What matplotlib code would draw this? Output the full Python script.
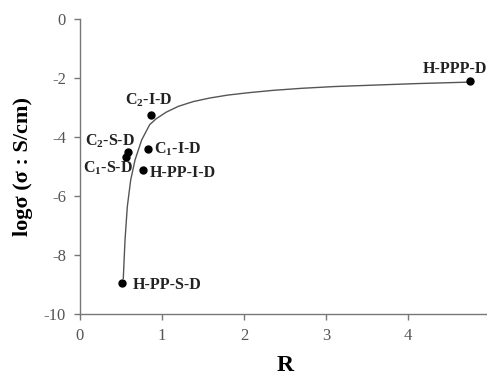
import matplotlib
matplotlib.use("Agg")
import matplotlib.pyplot as plt

plt.rcParams["font.family"] = ["Liberation Serif", "DejaVu Serif"]
plt.rcParams["mathtext.fontset"] = "custom"
plt.rcParams["mathtext.rm"] = "Liberation Serif:bold"
plt.rcParams["mathtext.it"] = "Liberation Serif:bold:italic"
plt.rcParams["mathtext.bf"] = "Liberation Serif:bold"
plt.rcParams["axes.unicode_minus"] = False

# samples
names = ["H-PP-S-D", "C$_2$-S-D", "C$_1$-S-D", "C$_1$-I-D", "H-PP-I-D", "C$_2$-I-D", "H-PPP-D"]
r_vals = [0.516, 0.582, 0.561, 0.833, 0.773, 0.867, 4.75]
log_sigma = [-8.94, -4.52, -4.69, -4.41, -5.11, -3.24, -2.11]

# label offsets (points) from each dot
label_dx = [7.5, -30.7, -31.0, 4.1, 4.8, -18.7, -34.0]
label_dy = [-4.8, 4.8, -11.2, -3.4, -5.3, 7.2, 6.0]

# trend curve
curve_r = [0.528, 0.549, 0.577, 0.618, 0.671, 0.752, 0.85, 0.93, 1.05, 1.2,
           1.38, 1.58, 1.8, 2.05, 2.35, 2.7, 3.1, 3.6, 4.1, 4.74]
curve_log = [-8.79, -7.49, -6.36, -5.46, -4.78, -4.10, -3.58, -3.38, -3.16, -2.96,
             -2.80, -2.68, -2.58, -2.50, -2.42, -2.35, -2.29, -2.24, -2.19, -2.14]

fig = plt.figure(figsize=(4.87, 3.79), dpi=100)
ax = fig.add_axes([80 / 487, 1 - 314 / 379, 410 / 487, 295 / 379])

ax.plot(curve_r, curve_log, color="#555555", lw=1.0, zorder=2)
ax.plot(r_vals, log_sigma, "o", color="black", ms=5, zorder=3)

for name, x, y, dx, dy in zip(names, r_vals, log_sigma, label_dx, label_dy):
    ax.annotate(name, (x, y), xytext=(dx, dy), textcoords="offset points",
                fontsize=11.5, fontweight="bold", ha="left", va="baseline",
                color="#222222")

ax.set_xlim(0, 5)
ax.set_ylim(-10, 0)
ax.set_xticks(range(0, 6))
ax.set_yticks(range(-10, 1, 2))

for side in ("top", "right"):
    ax.spines[side].set_visible(False)
for side in ("left", "bottom"):
    ax.spines[side].set_color("#777777")
    ax.spines[side].set_linewidth(1.0)

ax.tick_params(direction="out", length=4, width=1, color="#777777",
               labelsize=12, labelcolor="#555555", pad=6)

ax.set_xlabel("R", fontsize=17, fontweight="bold", labelpad=8)
ax.set_ylabel("logσ (σ : S/cm)", fontsize=16, fontweight="bold", labelpad=8)

fig.savefig("out.png", dpi=100)
